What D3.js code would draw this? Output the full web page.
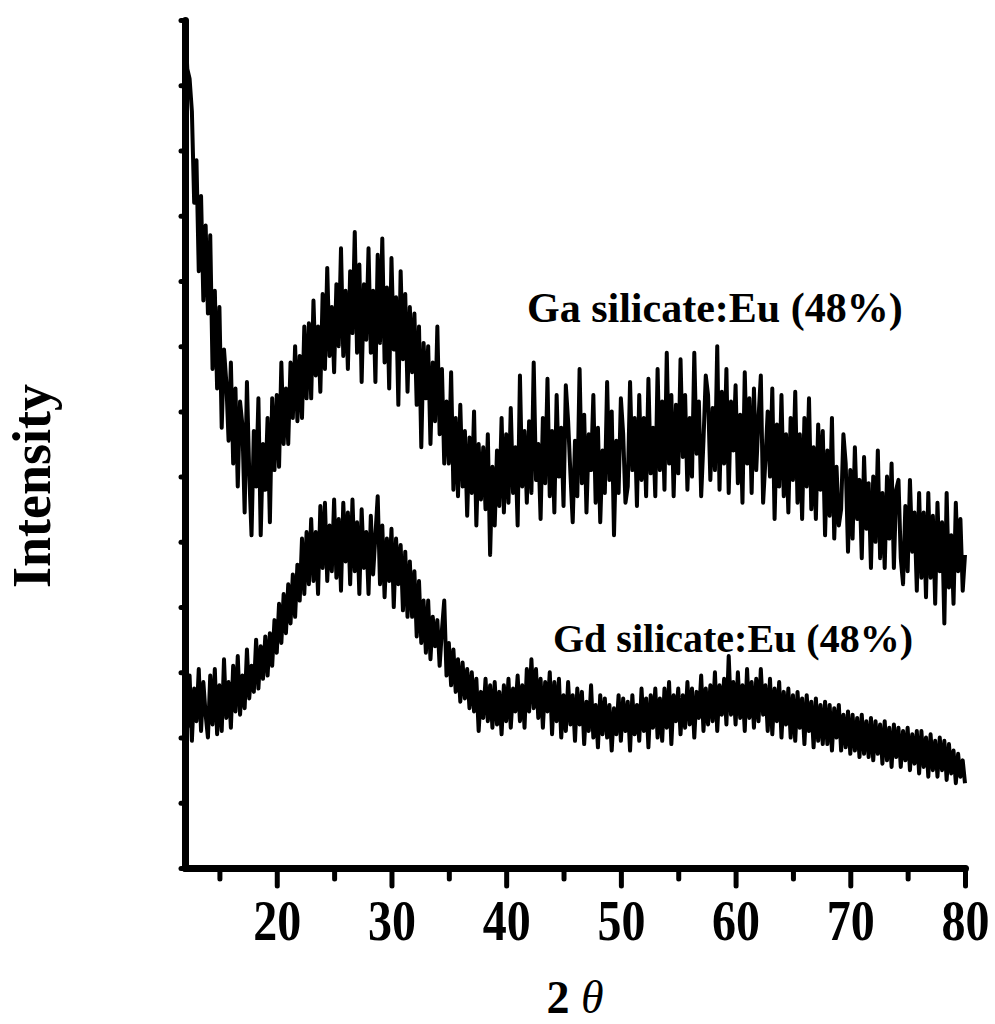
<!DOCTYPE html>
<html lang="en">
<head>
  <meta charset="UTF-8">
  <title>XRD</title>
  <style type="text/css">
     body{
        margin:0;
        background:#fff;
     }
     svg text{
        font-family:"Liberation Serif","Times New Roman",serif;
        font-weight:bold;
        fill:#000;
     }
  </style>
  <script src="https://d3js.org/d3.v7.min.js"></script>
</head>
<body>
   <svg></svg>
   <script>
          // scan grid (2 theta, deg)
          const thetaStart = 12;
          const thetaStep = 0.2;
          const xDomain = [12, 80];
          const xTicks = [20, 30, 40, 50, 60, 70, 80];
          const xMinorTicks = [15, 25, 35, 45, 55, 65, 75];
          const seriesNames = ["Ga silicate:Eu (48%)", "Gd silicate:Eu (48%)"];

          // intensity (a.u.), one row per degree: x.0 x.2 x.4 x.6 x.8
          const gaSilicate = [
            1300, 1225, 1210, 1160, 1020,
            1085, 915, 1030, 870, 985,
            850, 970, 765, 885, 735,
            860, 675, 795, 745, 655,
            775, 620, 735, 585, 715,
            680, 545, 745, 605, 510,
            670, 585, 720, 510, 650,
            580, 690, 530, 720, 610,
            725, 615, 775, 650, 735,
            650, 775, 690, 800, 685,
            785, 690, 830, 720, 835,
            720, 870, 755, 830, 730,
            880, 765, 920, 785, 860,
            760, 895, 800, 950, 785,
            885, 765, 915, 820, 975,
            790, 925, 745, 895, 810,
            950, 790, 885, 745, 940,
            805, 965, 775, 890, 735,
            935, 795, 875, 710, 915,
            780, 880, 730, 860, 760,
            850, 710, 830, 645, 805,
            720, 800, 650, 775, 685,
            830, 665, 765, 620, 715,
            620, 760, 580, 690, 570,
            710, 585, 670, 540, 660,
            575, 700, 525, 650, 565,
            645, 550, 665, 480, 615,
            525, 640, 555, 690, 545,
            665, 560, 705, 575, 645,
            525, 755, 585, 670, 560,
            685, 575, 775, 595, 650,
            535, 690, 590, 750, 570,
            670, 545, 725, 600, 675,
            555, 740, 685, 605, 530,
            655, 570, 765, 590, 695,
            545, 665, 610, 725, 560,
            675, 530, 640, 575, 745,
            595, 700, 510, 655, 575,
            720, 665, 560, 585, 745,
            610, 690, 555, 725, 595,
            690, 570, 750, 605, 675,
            570, 765, 610, 715, 580,
            790, 620, 725, 570, 710,
            605, 780, 630, 725, 580,
            690, 600, 790, 635, 715,
            570, 655, 755, 725, 595,
            705, 610, 800, 580, 730,
            620, 765, 575, 715, 640,
            740, 590, 695, 560, 760,
            620, 720, 575, 735, 610,
            690, 755, 560, 625, 700,
            600, 735, 535, 680, 585,
            725, 570, 665, 545, 690,
            595, 730, 560, 665, 535,
            690, 585, 720, 550, 645,
            535, 680, 580, 670, 510,
            640, 540, 690, 505, 615,
            525, 550, 665, 620, 485,
            610, 505, 645, 535, 595,
            475, 630, 520, 590, 460,
            600, 500, 640, 475, 575,
            460, 600, 505, 620, 460,
            580, 595, 475, 435, 555,
            455, 595, 485, 545, 425,
            575, 445, 545, 415, 575,
            445, 540, 405, 560, 455,
            530, 375, 575, 430, 510,
            405, 560, 455, 535, 425,
            480
          ];

          const gdSilicate = [
            315, 215, 295, 195, 275,
            225, 305, 210, 285, 235,
            200, 295, 220, 305, 205,
            280, 210, 320, 230, 285,
            215, 310, 240, 325, 235,
            295, 245, 335, 260, 310,
            270, 350, 275, 340, 290,
            355, 295, 360, 310, 380,
            330, 405, 345, 420, 360,
            435, 375, 450, 385, 465,
            410, 505, 420, 515, 435,
            535, 440, 515, 420, 555,
            460, 560, 440, 525, 455,
            565, 445, 535, 425, 560,
            470, 545, 435, 565, 455,
            530, 420, 550, 460, 515,
            420, 540, 450, 510, 570,
            435, 525, 415, 505, 440,
            520, 400, 505, 435, 495,
            395, 485, 385, 470, 385,
            455, 355, 440, 345, 410,
            330, 410, 320, 385, 340,
            380, 310, 365, 410, 295,
            345, 280, 335, 270, 320,
            255, 315, 260, 305, 245,
            300, 240, 290, 210, 270,
            230, 290, 225, 280, 215,
            285, 220, 270, 205, 280,
            225, 290, 215, 275, 240,
            295, 225, 280, 215, 305,
            240, 320, 245, 305, 230,
            290, 215, 285, 240, 300,
            205, 285, 225, 290, 200,
            265, 210, 285, 220, 265,
            195, 275, 220, 270, 190,
            255, 210, 280, 200, 250,
            185, 265, 205, 260, 200,
            250, 180, 245, 205, 265,
            195, 260, 210, 255, 180,
            265, 205, 250, 195, 275,
            210, 260, 185, 265, 215,
            275, 200, 260, 195, 275,
            215, 285, 190, 265, 225,
            275, 205, 265, 215, 285,
            220, 275, 200, 270, 230,
            295, 210, 275, 220, 280,
            225, 300, 210, 280, 235,
            290, 220, 325, 235, 285,
            220, 300, 230, 280, 210,
            305, 230, 285, 215, 290,
            225, 305, 235, 280, 210,
            290, 205, 275, 225, 285,
            200, 270, 220, 275, 200,
            265, 195, 270, 215, 260,
            190, 265, 210, 255, 185,
            260, 195, 250, 190, 255,
            190, 250, 180, 245, 200,
            250, 180, 235, 185, 240,
            175, 235, 180, 230, 170,
            235, 175, 225, 170, 230,
            165, 225, 175, 220, 160,
            225, 165, 215, 155, 220,
            170, 215, 155, 210, 165,
            215, 150, 205, 160, 210,
            145, 210, 155, 200, 140,
            205, 150, 195, 140, 200,
            150, 195, 135, 190, 145,
            180, 130, 175, 140, 165,
            130
          ];

          const width = 995;
          const height = 1024;

          const svg = d3.select("svg")
                       .attr("width", width)
                       .attr("height", height);

          const xScale = d3.scaleLinear()
                  .domain(xDomain)
                  .range([185, 965]);

          const yScale = d3.scaleLinear()
                  .domain([0, 1300])
                  .range([868, 20]);

          //minor ticks first, under the axis line
          svg.append("g")
             .attr("class", "minor")
             .attr("transform", `translate(0,${yScale(0)})`)
             .call(d3.axisBottom(xScale).tickValues(xMinorTicks).tickSize(11).tickFormat(""));

          const xAxisG = svg.append("g")
             .attr("id", "xAxisG")
             .attr("transform", `translate(0,${yScale(0)})`)
             .call(d3.axisBottom(xScale).tickValues(xTicks).tickSize(18).tickSizeOuter(0));

          // tick numbers are drawn a bit tall in the original
          xAxisG.selectAll("text")
             .attr("y", 0)
             .attr("dy", 0)
             .attr("transform", "translate(0,72) scale(1,1.2)")
             .attr("font-size", 48);

          svg.append("g")
             .attr("id", "yAxisG")
             .attr("transform", `translate(${xScale(12)},0)`)
             .call(d3.axisLeft(yScale).tickValues(d3.range(0, 1301, 100)).tickSize(4).tickSizeOuter(0).tickFormat(""));

          svg.selectAll(".minor .domain").remove();
          svg.selectAll(".domain")
             .attr("stroke", "#000")
             .attr("stroke-width", 7)
             .attr("stroke-linecap", "round");
          svg.selectAll(".tick line")
             .attr("stroke", "#000")
             .attr("stroke-width", 5)
             .attr("stroke-linecap", "round");

          //scans
          const line = d3.line()
                  .x((d, i) => xScale(thetaStart + i * thetaStep))
                  .y(d => yScale(d));

          svg.selectAll("path.scan")
             .data([gaSilicate, gdSilicate])
             .enter()
             .append("path")
             .attr("class", "scan")
             .attr("d", line)
             .attr("fill", "none")
             .attr("stroke", "#000")
             .attr("stroke-width", 4)
             .attr("stroke-linejoin", "round");

          //labels
          svg.append("text")
             .attr("x", 527).attr("y", 322)
             .attr("font-size", 42)
             .text(seriesNames[0]);

          svg.append("text")
             .attr("x", 553).attr("y", 652)
             .attr("font-size", 40)
             .text(seriesNames[1]);

          svg.append("text")
             .attr("transform", "translate(50,486) rotate(-90)")
             .attr("text-anchor", "middle")
             .attr("font-size", 54)
             .text("Intensity");

          const xLabel = svg.append("text")
             .attr("x", 575).attr("y", 1013)
             .attr("text-anchor", "middle")
             .attr("font-size", 46);
          xLabel.append("tspan").text("2 ");
          xLabel.append("tspan")
             .attr("font-style", "italic")
             .attr("font-weight", "normal")
             .text("θ");
   </script>
</body>
</html>
